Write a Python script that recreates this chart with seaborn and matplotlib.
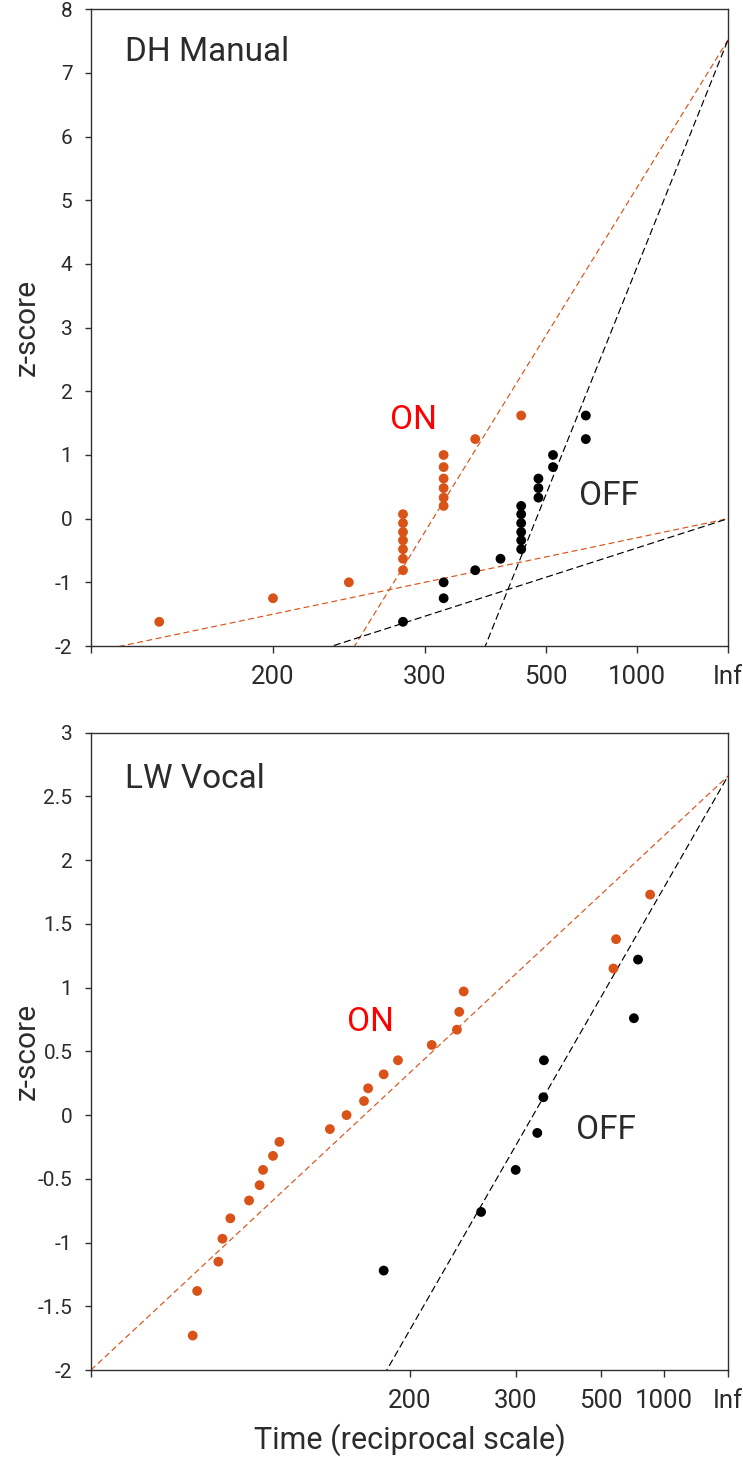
import numpy as np
import pandas as pd
import matplotlib
matplotlib.use("Agg")
import matplotlib.pyplot as plt
import seaborn as sns

# ==================== DATA ====================
# DH Manual: latencies (ms) and z-scores of the cumulative distribution
dh_on_ms = [160, 200, 240, 280, 280, 280, 280, 280, 280, 280,
            320, 320, 320, 320, 320, 320, 360, 440]
dh_on_z = [-1.62, -1.25, -1.0, -0.81, -0.63, -0.48, -0.34, -0.21, -0.07,
           0.07, 0.2, 0.33, 0.48, 0.63, 0.81, 1.0, 1.25, 1.62]
dh_off_ms = [280, 320, 320, 360, 400, 440, 440, 440, 440, 440, 440,
             480, 480, 480, 520, 520, 640, 640]
dh_off_z = [-1.62, -1.25, -1.0, -0.81, -0.63, -0.48, -0.34, -0.21, -0.07,
            0.07, 0.2, 0.33, 0.48, 0.63, 0.81, 1.0, 1.25, 1.62]

# LW Vocal
lw_on_ms = [119, 120, 125, 126, 128, 133, 136, 137, 140, 142, 160, 167,
            175, 177, 185, 193, 215, 235, 237, 241, 556, 569, 818]
lw_on_z = [-1.73, -1.38, -1.15, -0.97, -0.81, -0.67, -0.55, -0.43, -0.32,
           -0.21, -0.11, 0.0, 0.11, 0.21, 0.32, 0.43, 0.55, 0.67, 0.81,
           0.97, 1.15, 1.38, 1.73]
lw_off_ms = [185, 258, 300, 334, 345, 346, 677, 708]
lw_off_z = [-1.22, -0.76, -0.43, -0.14, 0.14, 0.43, 0.76, 1.22]

# fitted lines: (z at infinite time, slope per unit of -1000/t)
dh_on_fits = [(7.52, 2.32), (0.0, 0.30)]
dh_off_fits = [(7.52, 3.57), (0.0, 0.46)]
lw_on_fits = [(2.66, 0.466)]
lw_off_fits = [(2.66, 0.87)]

tick_ms = [200, 300, 500, 1000]
tick_labels = ["200", "300", "500", "1000"]

# ==================== STYLE ====================
ORANGE = "#D95319"
TEXT = "#2b2b2b"

sns.set_style("ticks")
plt.rcParams["font.family"] = ["Roboto", "DejaVu Sans"]
plt.rcParams["axes.unicode_minus"] = False
plt.rcParams["axes.edgecolor"] = "#303030"
plt.rcParams["axes.linewidth"] = 1.0
plt.rcParams["xtick.color"] = "#303030"
plt.rcParams["ytick.color"] = "#303030"
plt.rcParams["xtick.labelcolor"] = TEXT
plt.rcParams["ytick.labelcolor"] = TEXT


def recip(ms):
    return -1000.0 / np.asarray(ms, dtype=float)


def draw_panel(ax, on_ms, on_z, off_ms, off_z, on_fits, off_fits,
               xmin, ylim, ystep, title, on_pos, off_pos, title_y):
    # fit lines
    for fits, col, dash in [(on_fits, ORANGE, (0, (5, 3))),
                            (off_fits, "black", (0, (6, 3)))]:
        for z0, slope in fits:
            line = pd.DataFrame({"x": [xmin, 0.0],
                                 "z": [z0 + slope * xmin, z0]})
            sns.lineplot(data=line, x="x", y="z", ax=ax, color=col,
                         linewidth=0.85, linestyle=dash, zorder=2)

    on = pd.DataFrame({"x": recip(on_ms), "z": on_z})
    off = pd.DataFrame({"x": recip(off_ms), "z": off_z})
    sns.scatterplot(data=on, x="x", y="z", ax=ax, color=ORANGE, s=50,
                    edgecolor="none", zorder=3)
    sns.scatterplot(data=off, x="x", y="z", ax=ax, color="black", s=50,
                    edgecolor="none", zorder=3)

    ax.set_xlim(xmin, 0)
    ax.set_ylim(*ylim)
    ax.set_xticks([xmin] + list(recip(tick_ms)) + [0.0])
    ax.set_xticklabels([""] + tick_labels + ["Inf"])
    yt = np.arange(ylim[0], ylim[1] + 0.001, ystep)
    ax.set_yticks(yt)
    ax.set_yticklabels([f"{v:g}" for v in yt])
    ax.tick_params(axis="x", direction="out", length=4.8, width=1.0,
                   labelsize=18.5, pad=9)
    ax.tick_params(axis="y", direction="out", length=4.3, width=1.0,
                   labelsize=15, pad=9)
    for s in ax.spines.values():
        s.set_visible(True)
    ax.set_xlabel("")
    ax.set_ylabel("")

    ax.text(on_pos[0], on_pos[1], "ON", color="red", fontsize=24,
            ha="center", va="baseline")
    ax.text(off_pos[0], off_pos[1], "OFF", color=TEXT, fontsize=24,
            ha="center", va="baseline")
    ax.text(125 / 743, title_y, title, color=TEXT, fontsize=24,
            ha="left", va="baseline", transform=ax.figure.transFigure)


fig = plt.figure(figsize=(7.43, 14.57), dpi=100)
ax_top = fig.add_axes([91 / 743, 1 - 646 / 1457, 637 / 743, 636.7 / 1457])
ax_bot = fig.add_axes([91 / 743, 1 - 1370 / 1457, 637 / 743, 637.3 / 1457])

draw_panel(ax_top, dh_on_ms, dh_on_z, dh_off_ms, dh_off_z,
           dh_on_fits, dh_off_fits, -7.0, (-2, 8), 1, "DH Manual",
           (-3.46, 1.41), (-1.31, 0.22), 1 - 61 / 1457)
draw_panel(ax_bot, lw_on_ms, lw_on_z, lw_off_ms, lw_off_z,
           lw_on_fits, lw_off_fits, -10.0, (-2, 3), 0.5, "LW Vocal",
           (-5.62, 0.66), (-1.91, -0.19), 1 - 788 / 1457)

for yc in [327.5, 1051.5]:
    fig.text(27 / 743, 1 - yc / 1457, "z-score", rotation=90, color=TEXT,
             fontsize=21.5, ha="center", va="center")
fig.text(410 / 743, 1 - 1449 / 1457, "Time (reciprocal scale)", color=TEXT,
         fontsize=22, ha="center", va="baseline")

fig.savefig("out.png", dpi=100)
